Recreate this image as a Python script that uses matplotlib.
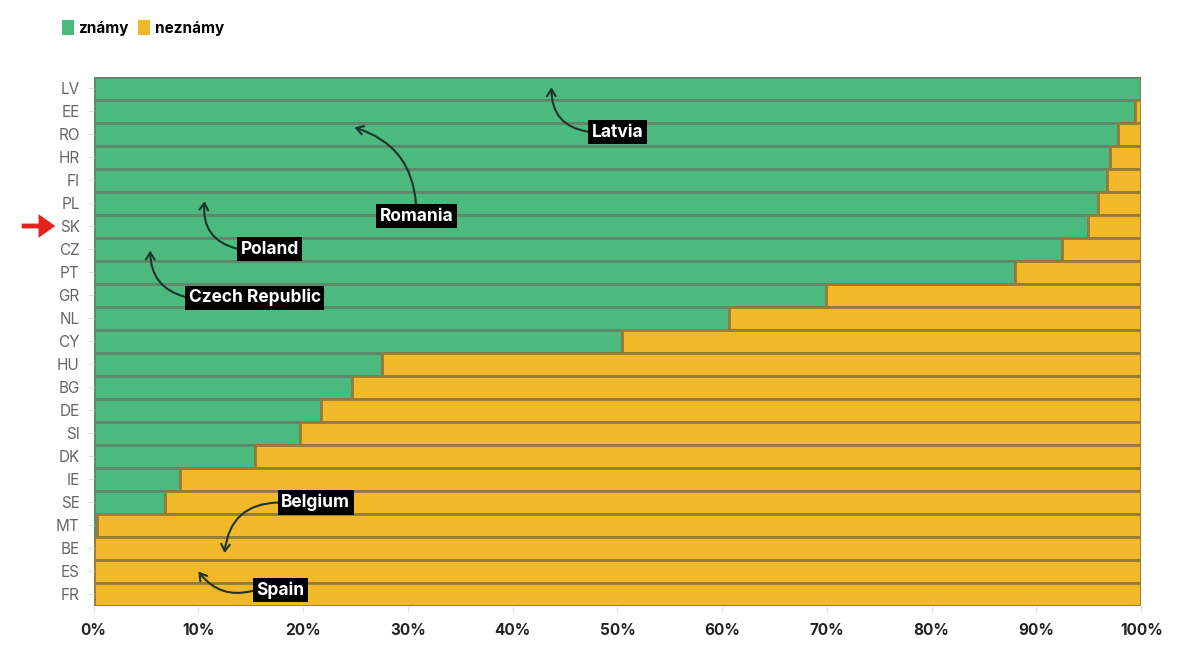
import matplotlib
matplotlib.use("Agg")
import matplotlib.pyplot as plt
from matplotlib.patches import Patch
from matplotlib.ticker import PercentFormatter

plt.rcParams['font.family'] = ['Inter', 'DejaVu Sans']

countries = ["LV", "EE", "RO", "HR", "FI", "PL", "SK", "CZ", "PT", "GR", "NL", "CY",
             "HU", "BG", "DE", "SI", "DK", "IE", "SE", "MT", "BE", "ES", "FR"]
known = [100.0, 99.4, 97.8, 97.0, 96.7, 95.9, 94.9, 92.4, 88.0, 69.9, 60.7, 50.4,
         27.5, 24.7, 21.7, 19.7, 15.4, 8.2, 6.8, 0.3, 0.0, 0.0, 0.0]
unknown = [0.0, 0.6, 2.2, 3.0, 3.3, 4.1, 5.1, 7.6, 12.0, 30.1, 39.3, 49.6,
           72.5, 75.3, 78.3, 80.3, 84.6, 91.8, 93.2, 99.7, 100.0, 100.0, 100.0]

# (label, label x/y, arrow tip x/y, curvature, start point on label box)
notes = [
    ("Latvia", 50.0, 1.9, 43.7, -0.05, -0.45, (0, 0.5)),
    ("Romania", 30.8, 5.55, 24.9, 1.7, 0.35, (0.5, 1)),
    ("Poland", 16.8, 7.0, 10.6, 4.9, -0.45, (0, 0.5)),
    ("Czech Republic", 15.4, 9.1, 5.4, 7.05, -0.4, (0, 0.5)),
    ("Belgium", 21.2, 18.0, 12.5, 20.2, 0.45, (0, 0.5)),
    ("Spain", 17.8, 21.8, 10.0, 21.0, -0.35, (0, 0.5)),
]

GREEN, YELLOW = "#4cb97e", "#f1b92a"

fig = plt.figure(figsize=(12, 6.63), dpi=100)
ax = fig.add_axes([0.078, 0.086, 0.873, 0.798])
y = range(len(countries))
ax.barh(y, known, height=1.0, color=GREEN, edgecolor="#5f8769", linewidth=2.0)
ax.barh(y, unknown, left=known, height=1.0, color=YELLOW, edgecolor="#947b3a", linewidth=2.0)

ax.set_xlim(0, 100)
ax.set_ylim(len(countries) - 0.5, -0.5)
ax.set_yticks(list(y))
ax.set_yticklabels(countries, color="#666666", fontsize=11)
ax.set_xticks(range(0, 101, 10))
ax.xaxis.set_major_formatter(PercentFormatter(decimals=0))
for lb in ax.get_xticklabels():
    lb.set_fontweight("bold"); lb.set_fontsize(11)
ax.tick_params(axis="both", colors="#dddddd", length=4, width=0.8)
ax.tick_params(axis="y", labelcolor="#666666", pad=6)
ax.tick_params(axis="x", labelcolor="#222222", pad=8)
for s in ax.spines.values():
    s.set_visible(False)

for txt, tx, ty, ax_, ay, rad, rp in notes:
    ax.annotate(txt, xy=(ax_, ay), xytext=(tx, ty), ha="center", va="center",
                color="white", fontsize=12.5, fontweight="bold",
                bbox=dict(boxstyle="square,pad=0.2", fc="black", ec="none"),
                arrowprops=dict(arrowstyle="->,head_length=0.4,head_width=0.25",
                                color="#1d3528", lw=1.5, relpos=rp, shrinkA=0, shrinkB=0,
                                connectionstyle=f"arc3,rad={rad}"))

# red pointer at SK
ax.annotate("", xy=(58, 437), xytext=(19, 437), xycoords="figure pixels",
            textcoords="figure pixels", annotation_clip=False,
            arrowprops=dict(arrowstyle="simple,head_width=1.7,head_length=1.2,tail_width=0.35",
                            color="#e3221c", lw=0))

fig.legend(handles=[Patch(facecolor=GREEN, label="známy"), Patch(facecolor=YELLOW, label="neznámy")],
           loc="upper left", bbox_to_anchor=(0.04, 0.99), ncol=2, frameon=False,
           handlelength=0.8, handleheight=1.1, handletextpad=0.3, columnspacing=0.6,
           prop={"weight": "bold", "size": 11})

fig.savefig("out.png", dpi=100)
